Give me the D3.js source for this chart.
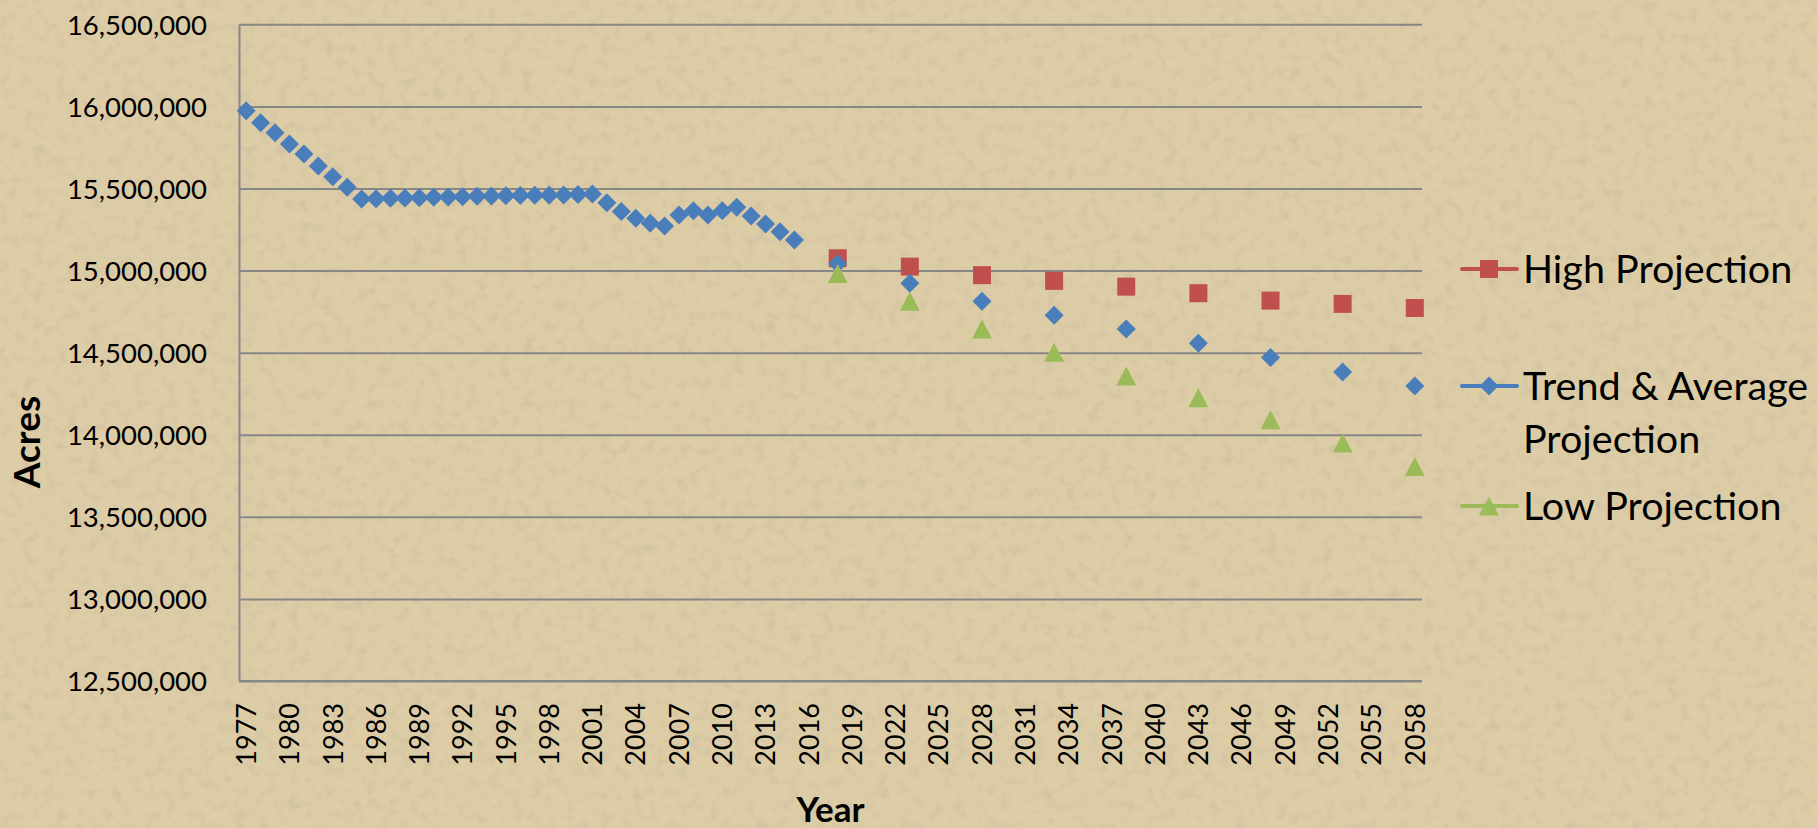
<!DOCTYPE html>
<html>
<head>
<meta charset="utf-8">
<script src="https://cdn.jsdelivr.net/npm/d3@7"></script>
<style>
  html, body { margin: 0; padding: 0; background: #dccca6; }
  svg { display: block; }
  text { font-family: Lato, "Open Sans", sans-serif; fill: #000; }
</style>
</head>
<body>
<svg id="chart" width="1817" height="828"></svg>
<script>
// ---- data ----
const categories = d3.range(1977, 2059);
const tickYears = [1977,1980,1983,1986,1989,1992,1995,1998,2001,2004,2007,2010,2013,2016,2019,2022,2025,2028,2031,2034,2037,2040,2043,2046,2049,2052,2055,2058];
const yTicks = [12500000,13000000,13500000,14000000,14500000,15000000,15500000,16000000,16500000];

const trendYears = [1977,1978,1979,1980,1981,1982,1983,1984,1985,1986,1987,1988,1989,1990,1991,1992,1993,1994,1995,1996,1997,1998,1999,2000,2001,2002,2003,2004,2005,2006,2007,2008,2009,2010,2011,2012,2013,2014,2015,
  2018,2023,2028,2033,2038,2043,2048,2053,2058];
const trendValues = [15974000,15901000,15840000,15771000,15710000,15637000,15572000,15507000,15436000,15438000,15440000,15442000,15444000,15446000,15448000,15450000,15452000,15454000,15456000,15457000,15458000,15459000,15461000,15463000,15467000,15413000,15359000,15318000,15288000,15272000,15339000,15365000,15339000,15365000,15385000,15332000,15284000,15237000,15186000,
  15042000,14923000,14813000,14728000,14644000,14557000,14470000,14382000,14297000];

const projYears = [2018,2023,2028,2033,2038,2043,2048,2053,2058];
const highValues = [15075000,15024000,14972000,14937000,14902000,14862000,14817000,14797000,14772000];
const lowValues  = [14982000,14813000,14644000,14502000,14358000,14226000,14091000,13949000,13807000];

const seriesNames = ["High Projection", "Trend & Average Projection", "Low Projection"];

// ---- layout ----
const W = 1817, H = 828;
const plot = {left: 239, right: 1422, top: 24.3, bottom: 681};
const colors = {high: "#c0504d", trend: "#4a7ebb", low: "#9bbb59"};

const svg = d3.select("#chart");

// background texture
const defs = svg.append("defs");
const f = defs.append("filter").attr("id", "paper").attr("x", 0).attr("y", 0).attr("width", "100%").attr("height", "100%");
f.append("feTurbulence").attr("type", "fractalNoise").attr("baseFrequency", 0.09).attr("numOctaves", 3).attr("seed", 7).attr("result", "n");
f.append("feColorMatrix").attr("in", "n").attr("type", "matrix")
  .attr("values", "0 0 0 0 0.52  0 0 0 0 0.44  0 0 0 0 0.30  1.6 0 0 0 -0.72");
svg.append("rect").attr("width", W).attr("height", H).attr("fill", "#ddcda7");
svg.append("rect").attr("width", W).attr("height", H).attr("filter", "url(#paper)").attr("opacity", 0.55);

// scales
const x = d3.scaleBand().domain(categories).range([plot.left, plot.right]).padding(0);
const cx = yr => x(yr) + x.bandwidth() / 2;
const y = d3.scaleLinear().domain([12500000, 16500000]).range([plot.bottom, plot.top]);

// gridlines
const grid = svg.append("g").attr("transform", `translate(${plot.left},0)`)
  .call(d3.axisLeft(y).tickValues(yTicks).tickSize(-(plot.right - plot.left)).tickFormat(""));
grid.select(".domain").remove();
grid.selectAll("line").attr("stroke", "#878787").attr("stroke-width", 2);

// y axis
const yAxis = svg.append("g").attr("transform", `translate(${plot.left},0)`)
  .call(d3.axisLeft(y).tickValues(yTicks).tickSize(0).tickPadding(32).tickFormat(d3.format(",")));
yAxis.select(".domain").attr("stroke", "#878787").attr("stroke-width", 2);
yAxis.selectAll("text").attr("font-size", 27.5).attr("font-family", "Lato").attr("fill", "#000").attr("dy", "0.36em");

// x axis
const xAxis = svg.append("g").attr("transform", `translate(0,${plot.bottom})`)
  .call(d3.axisBottom(x).tickValues(tickYears).tickSize(0));
xAxis.select(".domain").attr("stroke", "#878787").attr("stroke-width", 2)
  .attr("d", `M${plot.left},0H${plot.right}`);
xAxis.selectAll("text")
  .attr("font-size", 27).attr("font-family", "Lato").attr("fill", "#000")
  .attr("transform", "rotate(-90)")
  .attr("text-anchor", "end")
  .attr("x", -22).attr("y", 0).attr("dy", "0.36em");

// axis titles
svg.append("text").attr("x", (plot.left + plot.right) / 2).attr("y", 822)
  .attr("text-anchor", "middle").attr("font-weight", "bold").attr("font-size", 35).text("Year");
svg.append("text").attr("transform", "translate(40,442) rotate(-90)")
  .attr("text-anchor", "middle").attr("font-weight", "bold").attr("font-size", 37).text("Acres");

// symbol types
const diamond = { draw(ctx, size) { const r = Math.sqrt(size) / 2; ctx.moveTo(0, -r); ctx.lineTo(r, 0); ctx.lineTo(0, r); ctx.lineTo(-r, 0); ctx.closePath(); } };
const square = { draw(ctx, size) { const r = Math.sqrt(size) / 2; ctx.rect(-r, -r, 2 * r, 2 * r); } };
const tri = { draw(ctx, size) { const w = Math.sqrt(size) / 2, h = w * 0.95; ctx.moveTo(0, -h); ctx.lineTo(w, h); ctx.lineTo(-w, h); ctx.closePath(); } };

const dSym = d3.symbol().type(diamond).size(19 * 19);
const sSym = d3.symbol().type(square).size(18 * 18);
const tSym = d3.symbol().type(tri).size(20 * 20);

// marks
const marks = svg.append("g");
marks.selectAll(".high").data(projYears.map((d, i) => ({yr: d, v: highValues[i]}))).join("path")
  .attr("class", "high").attr("d", sSym).attr("fill", colors.high)
  .attr("transform", d => `translate(${cx(d.yr)},${y(d.v)})`);
marks.selectAll(".trend").data(trendYears.map((d, i) => ({yr: d, v: trendValues[i]}))).join("path")
  .attr("class", "trend").attr("d", dSym).attr("fill", colors.trend)
  .attr("transform", d => `translate(${cx(d.yr)},${y(d.v)})`);
marks.selectAll(".low").data(projYears.map((d, i) => ({yr: d, v: lowValues[i]}))).join("path")
  .attr("class", "low").attr("d", tSym).attr("fill", colors.low)
  .attr("transform", d => `translate(${cx(d.yr)},${y(d.v)})`);

// legend
const legendItems = [
  {name: seriesNames[0], color: colors.high, sym: sSym, y: 269, lines: ["High Projection"]},
  {name: seriesNames[1], color: colors.trend, sym: dSym, y: 386, lines: ["Trend & Average", "Projection"]},
  {name: seriesNames[2], color: colors.low, sym: tSym, y: 506, lines: ["Low Projection"]}
];
const lg = svg.append("g");
legendItems.forEach(it => {
  const g = lg.append("g").attr("transform", `translate(0,${it.y})`);
  g.append("line").attr("x1", 1462).attr("x2", 1517).attr("y1", 0).attr("y2", 0)
    .attr("stroke", it.color).attr("stroke-width", 4).attr("stroke-linecap", "round");
  g.append("path").attr("d", it.sym).attr("fill", it.color).attr("transform", "translate(1489,0)");
  it.lines.forEach((ln, i) => {
    g.append("text").attr("x", 1523).attr("y", 14 + i * 53)
      .attr("font-size", 39.5).text(ln);
  });
});
</script>
</body>
</html>
